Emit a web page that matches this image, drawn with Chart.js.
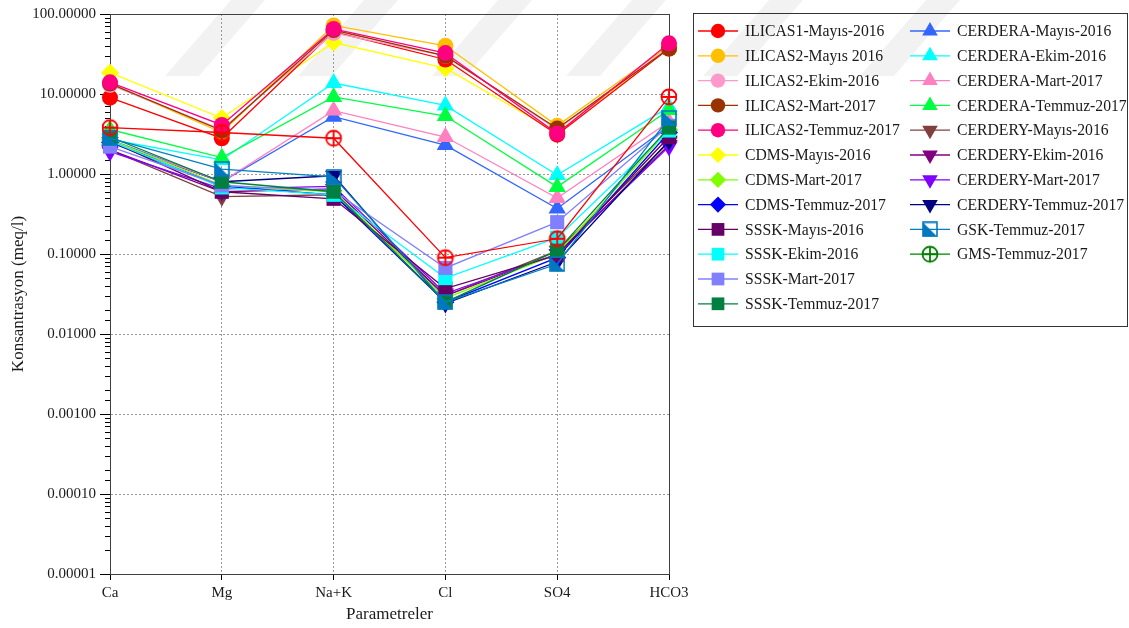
<!DOCTYPE html>
<html>
<head>
<meta charset="utf-8">
<script src="https://cdn.jsdelivr.net/npm/chart.js@4.4.1/dist/chart.umd.min.js"></script>
<style>
  html, body { margin: 0; padding: 0; background: #fff; }
  #wrap { width: 1129px; height: 628px; }
</style>
</head>
<body>
<div id="wrap"><canvas id="schoeller" width="1129" height="628"></canvas></div>
<script>
// parametreler (x ekseni)
const categories = ['Ca', 'Mg', 'Na+K', 'Cl', 'SO4', 'HCO3'];
const yMin = 0.00001;
const yMax = 100;

// meq/l degerleri, sira: Ca, Mg, Na+K, Cl, SO4, HCO3
const ilicas1Mayis2016   = [9.0, 2.8, 60, 27, 3.1, 37];
const ilicas2Mayis2016   = [13.5, 3.3, 72, 40, 4.0, 40];
const ilicas2Ekim2016    = [13, 3.6, 58, 30, 3.6, 38];
const ilicas2Mart2017    = [13.5, 3.5, 63, 30, 3.7, 37];
const ilicas2Temmuz2017  = [14, 4.1, 65, 32.5, 3.2, 43];
const cdmsMayis2016      = [18.5, 5.0, 44, 21, 3.3, 38];
const cdmsMart2017       = [2.7, 0.72, 0.6, 0.028, 0.1, 3.6];
const cdmsTemmuz2017     = [2.5, 0.7, 0.55, 0.025, 0.09, 3.3];
const ssskMayis2016      = [2.6, 0.6, 0.49, 0.037, 0.097, 2.9];
const ssskEkim2016       = [2.6, 0.68, 0.55, 0.05, 0.16, 3.5];
const ssskMart2017       = [2.2, 0.72, 0.62, 0.067, 0.25, 4.0];
const ssskTemmuz2017     = [2.9, 0.8, 0.6, 0.025, 0.11, 3.8];
const cerderaMayis2016   = [2.7, 0.8, 5.2, 2.3, 0.37, 4.0];
const cerderaEkim2016    = [2.7, 1.5, 13.7, 7.2, 0.97, 6.9];
const cerderaMart2017    = [2.6, 0.8, 6.2, 2.9, 0.5, 4.5];
const cerderaTemmuz2017  = [3.6, 1.6, 9.2, 5.3, 0.69, 6.3];
const cerderyMayis2016   = [2.0, 0.52, 0.55, 0.03, 0.11, 2.5];
const cerderyEkim2016    = [2.0, 0.6, 0.65, 0.03, 0.1, 2.3];
const cerderyMart2017    = [1.9, 0.65, 0.7, 0.032, 0.1, 2.2];
const cerderyTemmuz2017  = [2.5, 0.8, 0.95, 0.024, 0.08, 2.6];
const gskTemmuz2017      = [2.8, 1.15, 0.92, 0.025, 0.075, 5.0];
const gmsTemmuz2017      = [3.8, 3.3, 2.8, 0.09, 0.155, 9.2];

const seriesNames = [
  'ILICAS1-Mayıs-2016', 'ILICAS2-Mayıs 2016', 'ILICAS2-Ekim-2016', 'ILICAS2-Mart-2017',
  'ILICAS2-Temmuz-2017', 'CDMS-Mayıs-2016', 'CDMS-Mart-2017', 'CDMS-Temmuz-2017',
  'SSSK-Mayıs-2016', 'SSSK-Ekim-2016', 'SSSK-Mart-2017', 'SSSK-Temmuz-2017',
  'CERDERA-Mayıs-2016', 'CERDERA-Ekim-2016', 'CERDERA-Mart-2017', 'CERDERA-Temmuz-2017',
  'CERDERY-Mayıs-2016', 'CERDERY-Ekim-2016', 'CERDERY-Mart-2017', 'CERDERY-Temmuz-2017',
  'GSK-Temmuz-2017', 'GMS-Temmuz-2017'
];
const seriesValues = [
  ilicas1Mayis2016, ilicas2Mayis2016, ilicas2Ekim2016, ilicas2Mart2017,
  ilicas2Temmuz2017, cdmsMayis2016, cdmsMart2017, cdmsTemmuz2017,
  ssskMayis2016, ssskEkim2016, ssskMart2017, ssskTemmuz2017,
  cerderaMayis2016, cerderaEkim2016, cerderaMart2017, cerderaTemmuz2017,
  cerderyMayis2016, cerderyEkim2016, cerderyMart2017, cerderyTemmuz2017,
  gskTemmuz2017, gmsTemmuz2017
];

// renkler / isaretler
const seriesColors = [
  '#ff0000', '#ffc000', '#ff99cc', '#993300', '#ff0080', '#ffff00', '#80ff00', '#0000ff',
  '#660066', '#00ffff', '#8080ff', '#008040', '#3366ff', '#00ffff', '#ff80c0', '#00ff40',
  '#804040', '#800080', '#8000ff', '#000080', '#0080c0', '#ff0000'
];
const legendColors = seriesColors.slice(0, 21).concat(['#008000']);
const markerKinds = [
  'circle', 'circle', 'circle', 'circle', 'circle', 'diamond', 'diamond', 'diamond',
  'square', 'square', 'square', 'square', 'up', 'up', 'up', 'up',
  'down', 'down', 'down', 'down', 'gsk', 'cross'
];
// cizim katmani (0 = en altta)
const drawLayer = [
  11, 12, 13, 14, 15, 8, 9, 10,
  16, 17, 18, 19, 4, 5, 6, 7,
  0, 1, 2, 3, 20, 21
];

const FONT = '"Liberation Serif", "Times New Roman", serif';

function crossMarker(color) {
  const c = document.createElement('canvas');
  c.width = 20; c.height = 20;
  const g = c.getContext('2d');
  g.strokeStyle = color;
  g.lineWidth = 1.8;
  g.beginPath();
  g.arc(10, 10, 7.5, 0, Math.PI * 2);
  g.moveTo(10, 2.5); g.lineTo(10, 17.5);
  g.moveTo(2.5, 10); g.lineTo(17.5, 10);
  g.stroke();
  return c;
}

function gskMarker() {
  const c = document.createElement('canvas');
  c.width = 16; c.height = 16;
  const g = c.getContext('2d');
  g.fillStyle = '#0078c0';
  g.beginPath();
  g.moveTo(1, 1); g.lineTo(15, 15); g.lineTo(1, 15); g.closePath();
  g.fill();
  g.strokeStyle = '#0078c0';
  g.lineWidth = 1.6;
  g.strokeRect(1, 1, 14, 14);
  return c;
}

const gskImg = gskMarker();
const crossRed = crossMarker('#ff0000');
const crossGreen = crossMarker('#008000');

function markerOpts(kind, legend) {
  switch (kind) {
    case 'circle': return { pointStyle: 'circle', radius: 8, rotation: 0 };
    case 'diamond': return { pointStyle: 'rectRot', radius: 9, rotation: 0 };
    case 'square': return { pointStyle: 'rect', radius: 10, rotation: 0 };
    case 'up': return { pointStyle: 'triangle', radius: 10, rotation: 0 };
    case 'down': return { pointStyle: 'triangle', radius: 10, rotation: 180 };
    case 'gsk': return { pointStyle: gskImg, radius: 8, rotation: 0 };
    case 'cross': return { pointStyle: legend ? crossGreen : crossRed, radius: 8, rotation: 0 };
  }
}

const datasets = seriesNames.map((name, i) => {
  const m = markerOpts(markerKinds[i], false);
  return {
    label: name,
    data: seriesValues[i],
    borderColor: seriesColors[i],
    backgroundColor: seriesColors[i],
    pointBackgroundColor: seriesColors[i],
    pointBorderColor: seriesColors[i],
    pointBorderWidth: 0,
    borderWidth: 1.3,
    pointStyle: m.pointStyle,
    pointRadius: m.radius,
    pointRotation: m.rotation,
    tension: 0,
    order: 100 - drawLayer[i]
  };
});

// arka plan filigran seritleri
const watermark = {
  id: 'watermark',
  beforeDraw(chart) {
    const ctx = chart.ctx;
    ctx.save();
    ctx.fillStyle = '#ffffff';
    ctx.fillRect(0, 0, chart.width, chart.height);
    ctx.fillStyle = 'rgba(0,0,0,0.05)';
    [165, 298, 432, 566, 703, 860].forEach(x0 => {
      ctx.beginPath();
      ctx.moveTo(x0, 76);
      ctx.lineTo(x0 + 34, 76);
      ctx.lineTo(x0 + 100, 0);
      ctx.lineTo(x0 + 66, 0);
      ctx.closePath();
      ctx.fill();
    });
    ctx.restore();
  }
};

// cerceve ve ara tikler
const frame = {
  id: 'frame',
  beforeDatasetsDraw(chart) {
    const { ctx, chartArea: a } = chart;
    const y = chart.scales.y;
    ctx.save();
    ctx.strokeStyle = '#000';
    ctx.lineWidth = 1;
    ctx.beginPath();
    y.ticks.forEach(t => {
      if (t.major) return;
      const py = Math.round(y.getPixelForValue(t.value)) + 0.5;
      ctx.moveTo(a.left - 5, py);
      ctx.lineTo(a.left, py);
    });
    ctx.stroke();
    ctx.strokeStyle = '#404040';
    ctx.strokeRect(Math.round(a.left) + 0.5, Math.round(a.top) + 0.5,
      Math.round(a.right - a.left), Math.round(a.bottom - a.top));
    ctx.restore();
  }
};

// sag taraftaki lejant kutusu
const legendBox = {
  id: 'legendBox',
  afterDraw(chart) {
    const ctx = chart.ctx;
    ctx.save();
    ctx.strokeStyle = '#333';
    ctx.lineWidth = 1;
    ctx.strokeRect(693.5, 13.5, 434, 313);
    ctx.font = '15.7px ' + FONT;
    ctx.textBaseline = 'middle';
    const perCol = 12;
    seriesNames.forEach((name, i) => {
      const col = i < perCol ? 0 : 1;
      const row = i < perCol ? i : i - perCol;
      const mx = col === 0 ? 718 : 930;
      const tx = col === 0 ? 745 : 957;
      const my = 31 + row * 24.8;
      ctx.strokeStyle = legendColors[i];
      ctx.lineWidth = 1.3;
      ctx.beginPath();
      ctx.moveTo(mx - 20, my);
      ctx.lineTo(mx + 20, my);
      ctx.stroke();
      const m = markerOpts(markerKinds[i], true);
      ctx.fillStyle = legendColors[i];
      Chart.helpers.drawPoint(ctx, {
        pointStyle: m.pointStyle, radius: m.radius * 0.9, rotation: m.rotation, borderWidth: 0
      }, mx, my);
      ctx.fillStyle = '#1a1a1a';
      ctx.fillText(name, tx, my + 1);
    });
    ctx.restore();
  }
};

new Chart(document.getElementById('schoeller'), {
  type: 'line',
  data: { labels: categories, datasets: datasets },
  plugins: [watermark, frame, legendBox],
  options: {
    responsive: false,
    animation: false,
    layout: { padding: { left: 0, top: 14, right: 460, bottom: 0 } },
    plugins: {
      legend: { display: false },
      tooltip: { enabled: false }
    },
    scales: {
      x: {
        type: 'category',
        offset: false,
        afterFit(scale) { scale.height = 54; },
        grid: {
          color: '#999',
          lineWidth: 1,
          tickColor: '#000',
          tickLength: 6
        },
        border: { display: true, color: '#000', width: 1, dash: [2, 2] },
        ticks: {
          color: '#1a1a1a',
          padding: 4,
          maxRotation: 0,
          font: { family: FONT, size: 15 }
        },
        title: {
          display: true,
          text: 'Parametreler',
          color: '#1a1a1a',
          padding: { top: 4, bottom: 3 },
          font: { family: FONT, size: 17 }
        }
      },
      y: {
        type: 'logarithmic',
        min: yMin,
        max: yMax,
        afterFit(scale) { scale.width = 110; },
        grid: {
          color: ctx => (ctx.tick && ctx.tick.major) ? '#999' : 'rgba(0,0,0,0)',
          tickColor: ctx => (ctx.tick && ctx.tick.major) ? '#000' : 'rgba(0,0,0,0)',
          lineWidth: 1,
          tickLength: 10
        },
        border: { display: true, color: '#000', width: 1, dash: [2, 2] },
        ticks: {
          autoSkip: false,
          color: '#1a1a1a',
          padding: 4,
          font: { family: FONT, size: 15 },
          callback: (v, i, ticks) => ticks[i].major ? Number(v).toFixed(5) : ''
        },
        title: {
          display: true,
          text: 'Konsantrasyon (meq/l)',
          color: '#1a1a1a',
          padding: { top: 8, bottom: 4 },
          font: { family: FONT, size: 17 }
        }
      }
    }
  }
});
</script>
</body>
</html>
